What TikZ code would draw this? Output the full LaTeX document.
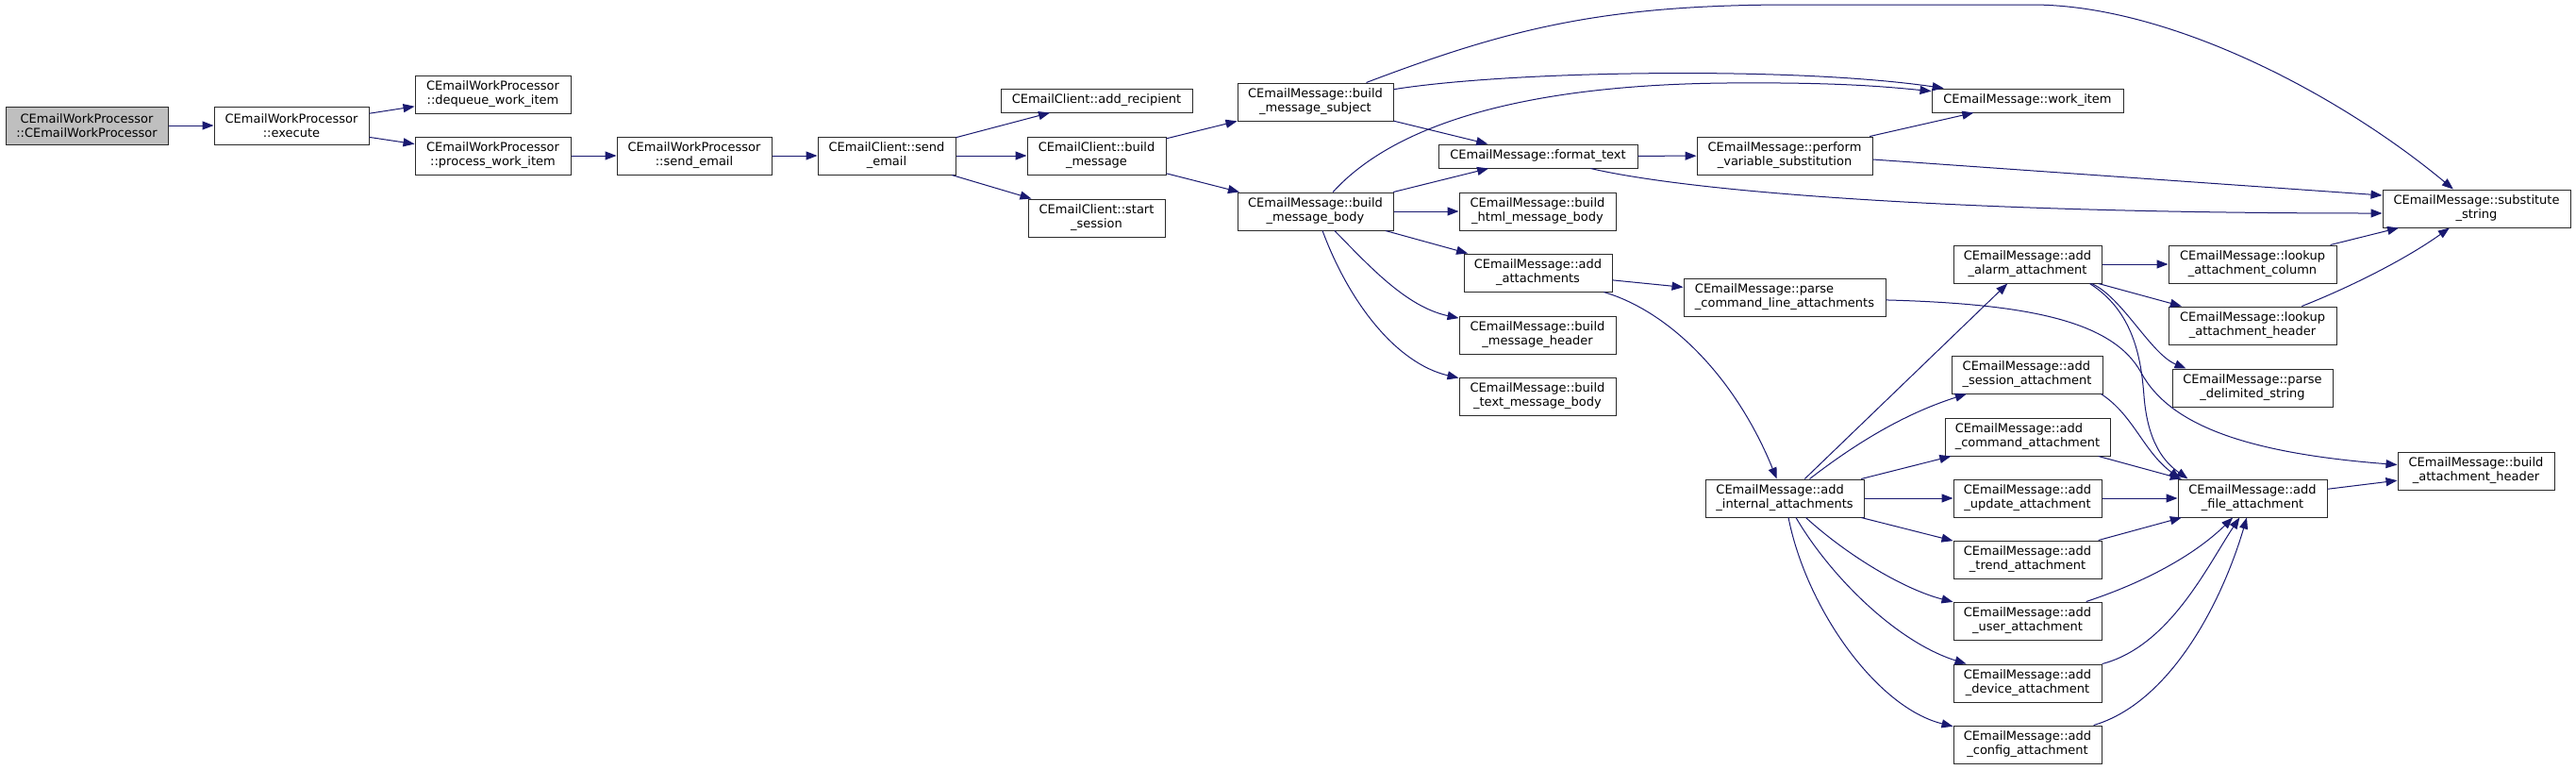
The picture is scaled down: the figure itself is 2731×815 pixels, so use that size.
\documentclass[tikz,border=0pt]{standalone}
\usepackage{fontspec}
\setmainfont{DejaVu Sans}
\usetikzlibrary{arrows.meta}
\definecolor{edgecol}{HTML}{191970}
\definecolor{rootfill}{HTML}{BFBFBF}
\definecolor{bordercol}{HTML}{2A2A2A}
\begin{document}
\begin{tikzpicture}[x=1pt,y=-1pt,
  gnode/.style={draw=bordercol, line width=1pt, fill=white, inner sep=0pt, align=center, font=\fontsize{13}{15}\selectfont},
  gnodel/.style={gnode, align=left},
  sz/.style 2 args={minimum width=#1pt, minimum height=#2pt},
  gedge/.style={draw=edgecol, line width=1pt, -{Triangle[length=12pt,width=9pt]}},
]
\fill[white] (0,0) rectangle (2731,815);
\useasboundingbox (0,0) rectangle (2731,815);

% nodes
\node[gnode, sz={172}{40}, fill=rootfill] (root) at (92,133) {CEmailWorkProcessor\\::CEmailWorkProcessor};
\node[gnode, sz={164}{40}] (execute) at (309,133) {CEmailWorkProcessor\\::execute};
\node[gnode, sz={165}{40}] (dequeue) at (522.5,100) {CEmailWorkProcessor\\::dequeue\_work\_item};
\node[gnode, sz={165}{40}] (process) at (522.5,165) {CEmailWorkProcessor\\::process\_work\_item};
\node[gnode, sz={164}{40}] (wpsend) at (736,165) {CEmailWorkProcessor\\::send\_email};
\node[gnode, sz={146}{40}] (clsend) at (940,165) {CEmailClient::send\\\_email};
\node[gnode, sz={203}{25}] (addrec) at (1162.5,106.5) {CEmailClient::add\_recipient};
\node[gnode, sz={147}{40}] (buildmsg) at (1162.5,165) {CEmailClient::build\\\_message};
\node[gnode, sz={145}{40}] (startsess) at (1162.5,231) {CEmailClient::start\\\_session};
\node[gnode, sz={165}{40}] (subject) at (1394.5,108) {CEmailMessage::build\\\_message\_subject};
\node[gnode, sz={165}{40}] (body) at (1394.5,224) {CEmailMessage::build\\\_message\_body};
\node[gnode, sz={211}{25}] (format) at (1630.5,165.5) {CEmailMessage::format\_text};
\node[gnode, sz={166}{40}] (html) at (1630,224) {CEmailMessage::build\\\_html\_message\_body};
\node[gnode, sz={157}{40}] (addatt) at (1630.5,289) {CEmailMessage::add\\\_attachments};
\node[gnode, sz={166}{40}] (header) at (1630,355) {CEmailMessage::build\\\_message\_header};
\node[gnode, sz={166}{40}] (textbody) at (1630,420) {CEmailMessage::build\\\_text\_message\_body};
\node[gnode, sz={186}{40}] (perform) at (1892,165) {CEmailMessage::perform\\\_variable\_substitution};
\node[gnodel, sz={214}{40}] (parsecmd) at (1892,315) {CEmailMessage::parse\\\_command\_line\_attachments};
\node[gnodel, sz={168}{40}] (internal) at (1892,528) {CEmailMessage::add\\\_internal\_attachments};
\node[gnode, sz={203}{25}] (workitem) at (2149.5,106.5) {CEmailMessage::work\_item};
\node[gnode, sz={157}{40}] (alarm) at (2149.5,280) {CEmailMessage::add\\\_alarm\_attachment};
\node[gnodel, sz={160}{40}] (session) at (2149,397) {CEmailMessage::add\\\_session\_attachment};
\node[gnodel, sz={175}{40}] (command) at (2149.5,463) {CEmailMessage::add\\\_command\_attachment};
\node[gnode, sz={157}{40}] (update) at (2149.5,528) {CEmailMessage::add\\\_update\_attachment};
\node[gnode, sz={157}{40}] (trend) at (2149.5,593) {CEmailMessage::add\\\_trend\_attachment};
\node[gnode, sz={157}{40}] (user) at (2149.5,658) {CEmailMessage::add\\\_user\_attachment};
\node[gnode, sz={157}{40}] (device) at (2149.5,724) {CEmailMessage::add\\\_device\_attachment};
\node[gnode, sz={157}{40}] (config) at (2149.5,789) {CEmailMessage::add\\\_config\_attachment};
\node[gnode, sz={178}{40}] (lookcol) at (2388,280) {CEmailMessage::lookup\\\_attachment\_column};
\node[gnode, sz={178}{40}] (lookhdr) at (2388,345) {CEmailMessage::lookup\\\_attachment\_header};
\node[gnode, sz={170}{40}] (parsedel) at (2388,411) {CEmailMessage::parse\\\_delimited\_string};
\node[gnode, sz={158}{40}] (file) at (2388,528) {CEmailMessage::add\\\_file\_attachment};
\node[gnode, sz={199}{40}] (subst) at (2625.5,221) {CEmailMessage::substitute\\\_string};
\node[gnode, sz={166}{40}] (bah) at (2625,499) {CEmailMessage::build\\\_attachment\_header};

% straight edges
\draw[gedge] (root) -- (execute);
\draw[gedge] (execute) -- (dequeue);
\draw[gedge] (execute) -- (process);
\draw[gedge] (process) -- (wpsend);
\draw[gedge] (wpsend) -- (clsend);
\draw[gedge] (clsend) -- (addrec);
\draw[gedge] (clsend) -- (buildmsg);
\draw[gedge] (clsend) -- (startsess);
\draw[gedge] (buildmsg) -- (subject);
\draw[gedge] (buildmsg) -- (body);
\draw[gedge] (subject) -- (format);
\draw[gedge] (body) -- (format);
\draw[gedge] (body) -- (html);
\draw[gedge] (body) -- (addatt);
\draw[gedge] (format) -- (perform);
\draw[gedge] (addatt) -- (parsecmd);
\draw[gedge] (perform) -- (workitem);
\draw[gedge] ([yshift=-4pt]perform.east) -- ([yshift=14pt]subst.west);
\draw[gedge] (internal) -- (alarm);
\draw[gedge] (internal) -- (command);
\draw[gedge] (internal) -- (update);
\draw[gedge] (internal) -- (trend);
\draw[gedge] (alarm) -- (lookcol);
\draw[gedge] (alarm) -- (lookhdr);
\draw[gedge] (lookcol) -- (subst);
\draw[gedge] (command) -- (file);
\draw[gedge] (update) -- (file);
\draw[gedge] (trend) -- (file);
\draw[gedge] (file) -- (bah);

% curved edges
\draw[gedge] (subject) .. controls (1600,30) and (1700,5) .. (1900,5) -- (2154,5) .. controls (2300,5) and (2480,100) .. (subst);
\draw[gedge] (subject) .. controls (1600,75) and (1900,70) .. (workitem);
\draw[gedge] (body) .. controls (1480,130) and (1620,90) .. (1830,88) .. controls (1950,87) and (2000,92) .. (workitem);
\draw[gedge] (format) .. controls (1800,205) and (2100,226) .. ([yshift=-5pt]subst.west);
\draw[gedge] (body) .. controls (1450,280) and (1490,325) .. (header);
\draw[gedge] (body) .. controls (1430,320) and (1480,385) .. (textbody);
\draw[gedge] (addatt) .. controls (1770,330) and (1840,400) .. (internal);
\draw[gedge] (internal) .. controls (1980,460) and (2030,435) .. (session);
\draw[gedge] (internal) .. controls (1960,590) and (2020,625) .. (user);
\draw[gedge] (internal) .. controls (1940,610) and (2010,680) .. (device);
\draw[gedge] (internal) .. controls (1915,645) and (1990,750) .. (config);
\draw[gedge] (user) .. controls (2280,615) and (2330,585) .. (file);
\draw[gedge] (device) .. controls (2300,685) and (2340,600) .. (file);
\draw[gedge] (config) .. controls (2300,745) and (2355,640) .. (file);
\draw[gedge] ([xshift=-2pt]session.south east) .. controls (2262,440) and (2272,478) .. ([xshift=3pt]file.north west);
\draw[gedge] ([xshift=-13pt]alarm.south east) .. controls (2262,330) and (2270,380) .. (2273,420) .. controls (2277,470) and (2295,490) .. ([xshift=11pt]file.north west);
\draw[gedge] ([xshift=-11pt]alarm.south east) .. controls (2250,315) and (2280,375) .. ([xshift=15pt]parsedel.north west);
\draw[gedge] (parsecmd) .. controls (2150,322) and (2240,340) .. (2270,395) .. controls (2300,450) and (2380,480) .. (bah);
\draw[gedge] (lookhdr) .. controls (2490,305) and (2550,275) .. (subst);
\end{tikzpicture}
\end{document}
